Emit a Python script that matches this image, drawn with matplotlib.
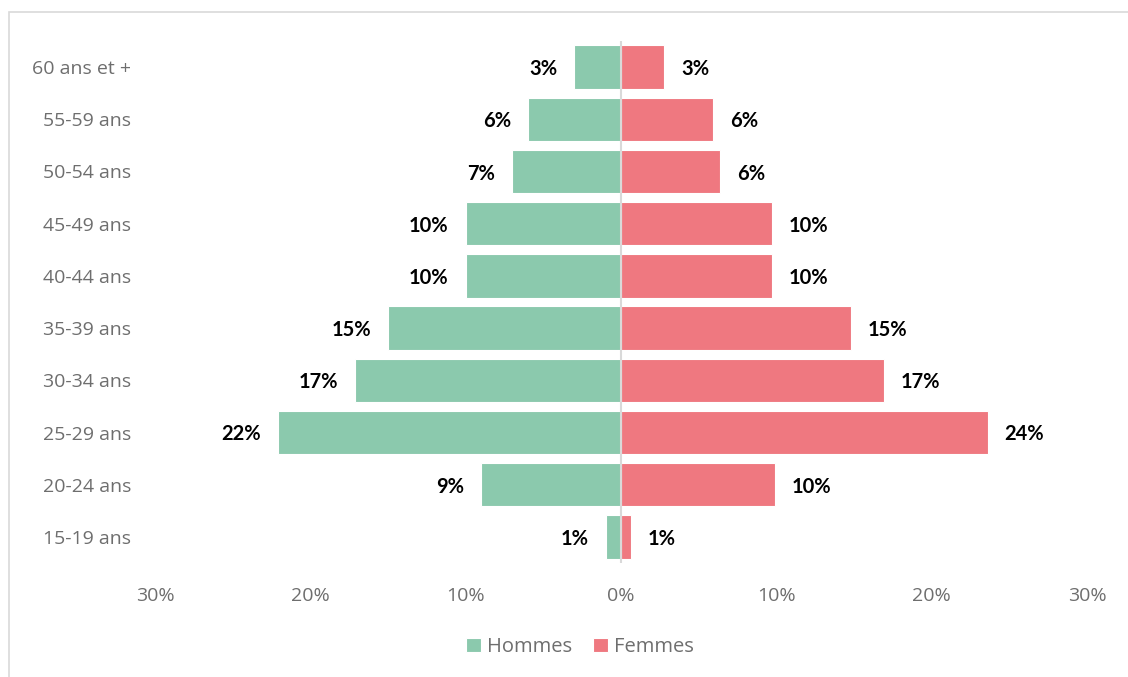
import matplotlib
matplotlib.use("Agg")
import matplotlib.pyplot as plt
from matplotlib.patches import Rectangle
from matplotlib.ticker import FuncFormatter

categories = ["15-19 ans", "20-24 ans", "25-29 ans", "30-34 ans", "35-39 ans",
              "40-44 ans", "45-49 ans", "50-54 ans", "55-59 ans", "60 ans et +"]
hommes = [0.97, 9.0, 22.1, 17.1, 15.0, 10.0, 10.0, 7.0, 6.0, 3.0]
femmes = [0.64, 9.9, 23.6, 16.9, 14.8, 9.7, 9.7, 6.4, 5.9, 2.8]
xticks = [-30, -20, -10, 0, 10, 20, 30]

green = "#8BC9AD"
red = "#EF7880"
grey_txt = "#6E6E6E"

plt.rcParams['font.family'] = ['Open Sans', 'DejaVu Sans']

W, H = 1128, 677
fig = plt.figure(figsize=(W / 100, H / 100), dpi=100)
ax = fig.add_axes([155 / W, (H - 563) / H, (1087 - 155) / W, (563 - 41) / H])

y = list(range(len(categories)))
bh = 0.83
ax.barh(y, [-v for v in hommes], height=bh, color=green, edgecolor="white", linewidth=0.8, label="Hommes")
ax.barh(y, femmes, height=bh, color=red, edgecolor="white", linewidth=0.8, label="Femmes")

lbl_font = dict(fontsize=14.5, fontweight="bold", color="black", family=["Lato", "DejaVu Sans"])
for yi, v in zip(y, hommes):
    ax.annotate(f"{round(v):.0f}%", xy=(-v, yi), xytext=(-17, -2), textcoords="offset pixels",
                ha="right", va="center", **lbl_font)
for yi, v in zip(y, femmes):
    ax.annotate(f"{round(v):.0f}%", xy=(v, yi), xytext=(17, -2), textcoords="offset pixels",
                ha="left", va="center", **lbl_font)

ax.axvline(0, color="#D9D9D9", linewidth=1.5, zorder=3)

ax.set_xlim(-30, 30)
ax.set_ylim(-0.5, len(categories) - 0.5)
ax.set_xticks(xticks)
ax.xaxis.set_major_formatter(FuncFormatter(lambda v, p: f"{abs(v):.0f}%"))
ax.set_yticks(y)
ax.set_yticklabels(categories)
ax.tick_params(axis="both", length=0, labelsize=14, colors=grey_txt)
ax.tick_params(axis="x", pad=17)
ax.tick_params(axis="y", pad=17)
for s in ax.spines.values():
    s.set_visible(False)

leg = fig.legend(loc="center", bbox_to_anchor=(580 / W, 1 - 647 / H), ncol=2, frameon=False,
                 fontsize=14.5, handlelength=0.75, handleheight=0.75, handletextpad=0.3,
                 columnspacing=1.0, labelcolor=grey_txt)

fig.patches.append(Rectangle((9 / W, -0.1), 1.2, 1 - 12 / H + 0.1, transform=fig.transFigure,
                             fill=False, edgecolor="#D9D9D9", linewidth=1.2))

fig.savefig("out.png", dpi=100)
